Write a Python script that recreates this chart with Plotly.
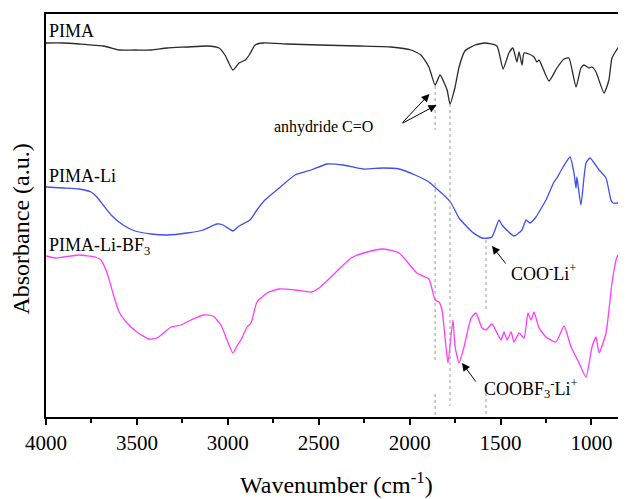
import plotly.graph_objects as go

# ---- data (wavenumber in cm-1, absorbance in arbitrary units, offset stacked) ----
pima_wn = [4000, 3906, 3818, 3686, 3620, 3598, 3510, 3422, 3334, 3224, 3114, 3048, 3016, 2972,
           2938, 2904, 2882, 2850, 2806, 2674, 2498, 2278, 2102, 1992, 1938, 1894, 1860, 1833,
           1794, 1778, 1750, 1728, 1696, 1640, 1586, 1520, 1486, 1454, 1432, 1410, 1398, 1382,
           1371, 1344, 1316, 1300, 1288, 1234, 1190, 1151, 1124, 1085, 1058, 1041, 1014, 997,
           975, 931, 904, 887, 849, 821]
pima_abs = [374, 374, 373, 371, 368, 367, 367, 367, 369, 370, 371, 369, 362, 347,
            354, 357, 362, 372, 374, 373, 372, 371, 370, 367, 362, 350, 332, 342,
            327, 313, 330, 350, 366, 372, 374, 371, 348, 364, 369, 355, 365, 352,
            364, 363, 360, 355, 357, 336, 349, 358, 359, 330, 349, 352, 349, 350,
            345, 324, 337, 359, 370, 371]

li_wn = [4000, 3906, 3818, 3752, 3720, 3686, 3642, 3576, 3510, 3422, 3334, 3224, 3136, 3060,
         3026, 2972, 2938, 2878, 2840, 2796, 2718, 2630, 2542, 2454, 2366, 2256, 2146, 2058,
         1970, 1894, 1850, 1806, 1772, 1728, 1656, 1602, 1564, 1547, 1508, 1492, 1426, 1382,
         1360, 1338, 1305, 1272, 1250, 1206, 1190, 1156, 1118, 1096, 1085, 1080, 1058, 1030,
         1008, 958, 920, 893, 882, 849, 816]
li_abs = [230, 229, 228, 225, 220, 212, 202, 192, 186, 183, 182, 184, 187, 193,
          192, 186, 191, 197, 207, 217, 229, 242, 247, 253, 252, 248, 249, 248,
          242, 235, 228, 221, 214, 199, 185, 179, 179, 180, 197, 192, 181, 187,
          197, 194, 200, 210, 217, 235, 239, 250, 260, 244, 229, 240, 212, 254,
          259, 247, 239, 217, 214, 214, 212]

bf3_wn = [4000, 3950, 3906, 3818, 3730, 3698, 3664, 3632, 3598, 3554, 3500, 3434, 3390, 3312,
          3258, 3202, 3136, 3082, 3038, 2972, 2950, 2928, 2894, 2872, 2840, 2784, 2718, 2630,
          2542, 2498, 2410, 2322, 2234, 2146, 2058, 1960, 1894, 1860, 1838, 1822, 1800, 1789,
          1762, 1750, 1728, 1701, 1662, 1635, 1602, 1580, 1547, 1498, 1481, 1464, 1442, 1426,
          1398, 1371, 1349, 1332, 1316, 1288, 1250, 1195, 1151, 1112, 1068, 1030, 997, 975,
          958, 920, 887, 860, 821]
bf3_abs = [161, 159, 160, 162, 160, 157, 144, 124, 105, 94, 85, 78, 79, 90,
           92, 97, 102, 101, 92, 64, 71, 77, 90, 94, 115, 124, 128, 127,
           125, 129, 144, 159, 165, 168, 164, 144, 138, 117, 115, 107, 70, 54,
           97, 70, 54, 70, 99, 104, 89, 87, 93, 77, 85, 77, 85, 75,
           84, 79, 104, 97, 105, 89, 80, 75, 91, 70, 54, 40, 70, 80,
           64, 84, 134, 160, 169]

series_names = ["PIMA", "PIMA-Li", "PIMA-Li-BF<sub>3</sub>"]
series_colors = ["#2b2b2b", "#3f4ff2", "#ff3cff"]

# dotted guide lines: wavenumber and (start, end) segments in absorbance units
guide_wn = [1860, 1778, 1580]
guide_segments = [[(331, 287), (234, 55), (23, 0)],
                  [(313, 11)],
                  [(177, 107), (30, 0)]]

x_ticks = [4000, 3500, 3000, 2500, 2000, 1500, 1000]

SERIF = "Liberation Serif"

fig = go.Figure()
for wn, ab, col, nm in zip([pima_wn, li_wn, bf3_wn], [pima_abs, li_abs, bf3_abs],
                           series_colors, series_names):
    fig.add_trace(go.Scatter(x=wn, y=ab, mode="lines", name=nm,
                             line=dict(color=col, width=1.3, shape="spline", smoothing=0.5),
                             showlegend=False, hoverinfo="skip"))

for wn, segs in zip(guide_wn, guide_segments):
    for y0, y1 in segs:
        fig.add_trace(go.Scatter(x=[wn, wn], y=[y0, y1], mode="lines",
                                 line=dict(color="#999999", width=1, dash="dot"),
                                 showlegend=False, hoverinfo="skip"))

annos = []
# series labels
label_y = [386, 241, 171]
for nm, yy in zip(series_names, label_y):
    annos.append(dict(x=3995, y=yy, xref="x", yref="y", text=nm, showarrow=False,
                      xanchor="left", yanchor="middle",
                      font=dict(family=SERIF, size=18, color="black")))

# peak annotations
annos.append(dict(x=2757, y=290, xref="x", yref="y", text="anhydride C=O", showarrow=False,
                  xanchor="left", yanchor="middle", font=dict(family=SERIF, size=16, color="black")))
annos.append(dict(x=1455, y=145, xref="x", yref="y", text="COO<sup>-</sup>Li<sup>+</sup>",
                  showarrow=False, xanchor="left", yanchor="middle",
                  font=dict(family=SERIF, size=18, color="black")))
annos.append(dict(x=1604, y=29, xref="x", yref="y",
                  text="COOBF<sub>3</sub><sup>-</sup>Li<sup>+</sup>",
                  showarrow=False, xanchor="left", yanchor="middle",
                  font=dict(family=SERIF, size=18, color="black")))

# arrows (head x,y ; tail ax,ay)
arrows = [(1891, 323, 2047, 293), (1852, 312, 2047, 293),
          (1547, 171, 1465, 152), (1712, 54, 1630, 34)]
for hx, hy, tx, ty in arrows:
    annos.append(dict(x=hx, y=hy, ax=tx, ay=ty, xref="x", yref="y", axref="x", ayref="y",
                      text="", showarrow=True, arrowhead=2, arrowsize=1.6, arrowwidth=1,
                      arrowcolor="black"))

# axis titles
annos.append(dict(x=0.5, y=-0.163, xref="paper", yref="paper",
                  text="Wavenumber (cm<sup>-1</sup>)", showarrow=False,
                  xanchor="center", yanchor="middle",
                  font=dict(family=SERIF, size=24, color="black")))
annos.append(dict(x=-0.0435, y=0.467, xref="paper", yref="paper",
                  text="Absorbance (a.u.)", showarrow=False, textangle=-90,
                  xanchor="center", yanchor="middle",
                  font=dict(family=SERIF, size=24, color="black")))

# the page body has an 8px default margin, so the figure is 8px smaller on each side
fig.update_layout(
    width=618, height=491,
    margin=dict(l=38, r=0, t=6, b=82),
    font=dict(family=SERIF, color="black"),
    paper_bgcolor="white", plot_bgcolor="white",
    annotations=annos,
    xaxis=dict(range=[4000, 810], tickvals=x_ticks, ticktext=[str(t) for t in x_ticks],
               ticks="outside", ticklen=6, tickwidth=1.5, tickcolor="black",
               showline=True, linecolor="black", linewidth=2, mirror=True,
               showgrid=False, zeroline=False,
               minor=dict(dtick=250, tick0=0, ticks="outside", ticklen=4, tickwidth=1.5,
                          tickcolor="black", showgrid=False),
               tickfont=dict(family=SERIF, size=21, color="black")),
    yaxis=dict(range=[0, 403], showticklabels=False, ticks="", showline=True,
               linecolor="black", linewidth=2, showgrid=False, zeroline=False),
)

fig.write_html("out.html")
